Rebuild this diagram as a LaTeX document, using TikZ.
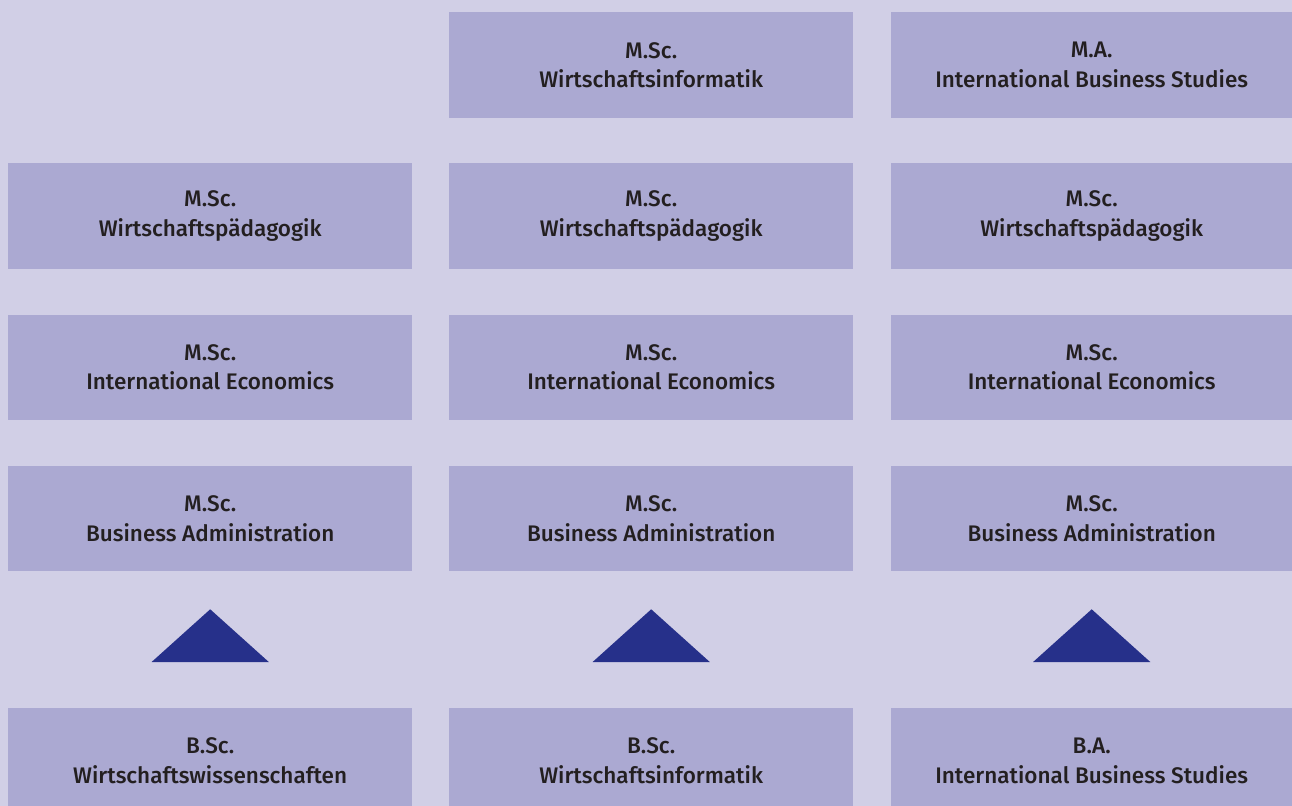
\documentclass[tikz,border=0pt]{standalone}
\usepackage{fontspec}
\setmainfont{Fira Sans}[UprightFont={* Medium}]
\definecolor{bgcol}{RGB}{209,207,230}
\definecolor{boxcol}{RGB}{171,169,210}
\definecolor{tricol}{RGB}{38,48,138}
\definecolor{txtcol}{RGB}{35,31,32}
\begin{document}
\begin{tikzpicture}[x=1bp,y=-1bp,
  prog/.style={fill=boxcol, draw=none, anchor=north west, minimum height=105.6bp,
    inner sep=0pt, align=center, text=txtcol,
    font=\fontsize{22.6}{29.5}\selectfont},
  wideA/.style={minimum width=404bp},
  wideB/.style={minimum width=401bp},
  arrowtri/.style={fill=tricol, draw=none}]
\fill[bgcol] (0,0) rectangle (1292,806);
\clip (0,0) rectangle (1292,806);
% row 0
\node[prog,wideA] (r0c2) at (449,12) {M.Sc.\\Wirtschaftsinformatik};
\node[prog,wideB] (r0c3) at (891,12) {M.A.\\International Business Studies};
% row 1
\node[prog,wideA] (r1c1) at (8,163.2) {M.Sc.\\Wirtschaftspädagogik};
\node[prog,wideA] (r1c2) at (449,163.2) {M.Sc.\\Wirtschaftspädagogik};
\node[prog,wideB] (r1c3) at (891,163.2) {M.Sc.\\Wirtschaftspädagogik};
% row 2
\node[prog,wideA] (r2c1) at (8,314.4) {M.Sc.\\International Economics};
\node[prog,wideA] (r2c2) at (449,314.4) {M.Sc.\\International Economics};
\node[prog,wideB] (r2c3) at (891,314.4) {M.Sc.\\International Economics};
% row 3
\node[prog,wideA] (r3c1) at (8,465.6) {M.Sc.\\Business Administration};
\node[prog,wideA] (r3c2) at (449,465.6) {M.Sc.\\Business Administration};
\node[prog,wideB] (r3c3) at (891,465.6) {M.Sc.\\Business Administration};
% bachelor row
\node[prog,wideA] (b1) at (8,707.7) {B.Sc.\\Wirtschaftswissenschaften};
\node[prog,wideA] (b2) at (449,707.7) {B.Sc.\\Wirtschaftsinformatik};
\node[prog,wideB] (b3) at (891,707.7) {B.A.\\International Business Studies};
% triangles
\foreach \c in {1,2,3}{
  \path (b\c.north |- 0,609.3) coordinate (apex\c);
  \fill[arrowtri] (apex\c) -- ++(58.6,52.7) -- ++(-117.2,0) -- cycle;
}
\end{tikzpicture}
\end{document}
